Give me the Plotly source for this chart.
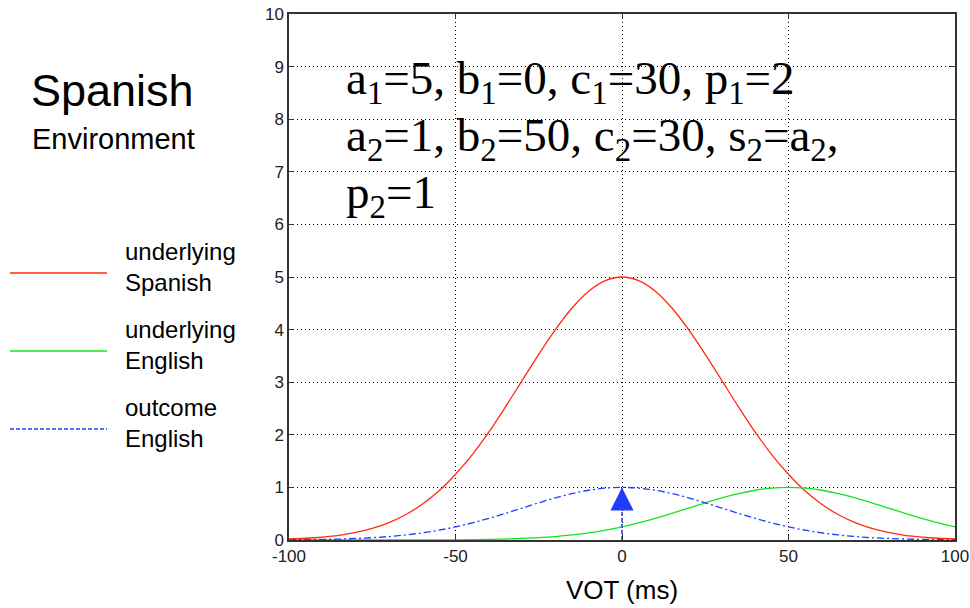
import plotly.graph_objects as go

# ---- data ----
vot = [-100, -95, -90, -85, -80, -75, -70, -65, -60, -55, -50, -45, -40, -35, -30, -25, -20, -15, -10, -5,
       0, 5, 10, 15, 20, 25, 30, 35, 40, 45, 50, 55, 60, 65, 70, 75, 80, 85, 90, 95, 100]

underlying_spanish = [0.019, 0.033, 0.056, 0.090, 0.143, 0.220, 0.330, 0.480, 0.680, 0.930,
                      1.250, 1.620, 2.050, 2.530, 3.030, 3.530, 4.000, 4.410, 4.730, 4.930,
                      5.000,
                      4.930, 4.730, 4.410, 4.000, 3.530, 3.030, 2.530, 2.050, 1.620, 1.250,
                      0.930, 0.680, 0.480, 0.330, 0.220, 0.143, 0.090, 0.056, 0.033, 0.019]

underlying_english = [0.000, 0.000, 0.000, 0.000, 0.000, 0.000, 0.000, 0.001, 0.001, 0.002,
                      0.004, 0.007, 0.011, 0.018, 0.029, 0.044, 0.066, 0.096, 0.135, 0.186,
                      0.249,
                      0.325, 0.411, 0.506, 0.607, 0.707, 0.801, 0.882, 0.946, 0.986, 1.000,
                      0.986, 0.946, 0.882, 0.801, 0.707, 0.607, 0.506, 0.411, 0.325, 0.249]

outcome_english = [0.004, 0.007, 0.011, 0.018, 0.029, 0.044, 0.066, 0.096, 0.135, 0.186,
                   0.249, 0.325, 0.411, 0.506, 0.607, 0.707, 0.801, 0.882, 0.946, 0.986,
                   1.000,
                   0.986, 0.946, 0.882, 0.801, 0.707, 0.607, 0.506, 0.411, 0.325, 0.249,
                   0.186, 0.135, 0.096, 0.066, 0.044, 0.029, 0.018, 0.011, 0.007, 0.004]

arrow_x = [0, 0]
arrow_y = [0, 1.0]

x_ticks = [-100, -50, 0, 50, 100]
x_tick_labels = ["-100", "-50", "0", "50", "100"]
y_ticks = [0, 1, 2, 3, 4, 5, 6, 7, 8, 9, 10]

legend_labels = ["underlying<br>Spanish", "underlying<br>English", "outcome<br>English"]
params_lines = ["a<sub>1</sub>=5, b<sub>1</sub>=0, c<sub>1</sub>=30, p<sub>1</sub>=2",
                "a<sub>2</sub>=1, b<sub>2</sub>=50, c<sub>2</sub>=30, s<sub>2</sub>=a<sub>2</sub>,",
                "p<sub>2</sub>=1"]

RED = "#ff2a10"
GREEN = "#10e620"
BLUE = "#1f3cff"

# plot-area geometry in page pixels (target)
PL, PR, PT, PB = 289, 955, 14, 540
PW, PH = PR - PL, PB - PT


def px_x(p):
    return (p - PL) / PW


def px_y(p):
    return (PB - p) / PH


fig = go.Figure()
fig.add_trace(go.Scatter(x=vot, y=underlying_spanish, mode="lines", line=dict(color=RED, width=1.3, shape="spline"),
                         hoverinfo="skip"))
fig.add_trace(go.Scatter(x=vot, y=underlying_english, mode="lines", line=dict(color=GREEN, width=1.3, shape="spline"),
                         hoverinfo="skip"))
fig.add_trace(go.Scatter(x=vot, y=outcome_english, mode="lines",
                         line=dict(color=BLUE, width=1.3, dash="7px,3px,2px,3px", shape="spline"),
                         hoverinfo="skip"))
# arrow shaft and head
fig.add_trace(go.Scatter(x=arrow_x, y=arrow_y, mode="lines", line=dict(color=BLUE, width=1.5, dash="4px,2px"),
                         hoverinfo="skip"))
fig.add_trace(go.Scatter(x=arrow_x[1:], y=arrow_y[1:], mode="markers",
                         marker=dict(symbol="arrow-up", size=23, color=BLUE, line=dict(width=0)),
                         hoverinfo="skip"))

axis_common = dict(showline=True, linecolor="#333333", linewidth=1.5, mirror="ticks",
                   ticks="inside", ticklen=5, tickcolor="#333333",
                   showgrid=True, gridcolor="#000000", gridwidth=1, griddash="1px,3px",
                   zeroline=False, ticklabeloverflow="allow", automargin=False,
                   tickfont=dict(family="Liberation Sans, Arial", size=17, color="#222222"))

fig.update_xaxes(range=[-100, 100], tickvals=x_ticks, ticktext=x_tick_labels,
                 title=dict(text="VOT (ms)", font=dict(family="Liberation Sans, Arial", size=26, color="#000000"),
                            standoff=16),
                 **axis_common)
fig.update_yaxes(range=[0, 10], tickvals=y_ticks, **axis_common)

annotations = [
    dict(text="Spanish", xref="paper", yref="paper", x=px_x(29), y=px_y(90), xanchor="left", yanchor="middle",
         showarrow=False, font=dict(family="Liberation Sans, Arial", size=45, color="#000000")),
    dict(text="Environment", xref="paper", yref="paper", x=px_x(30), y=px_y(139), xanchor="left",
         yanchor="middle", showarrow=False, font=dict(family="Liberation Sans, Arial", size=29, color="#000000")),
]

params_baselines = [93, 150, 207]
for line, base in zip(params_lines, params_baselines):
    annotations.append(dict(text=line, xref="paper", yref="paper", x=px_x(344), y=px_y(base - 12),
                            xanchor="left", yanchor="middle", align="left", showarrow=False,
                            font=dict(family="Liberation Serif, Times New Roman", size=47, color="#000000")))

legend_line_y = [273, 351, 429]
legend_colors = [RED, GREEN, BLUE]
legend_dash = ["solid", "solid", "4px,2px"]
shapes = []
for lbl, ly, col, ds in zip(legend_labels, legend_line_y, legend_colors, legend_dash):
    shapes.append(dict(type="line", xref="paper", yref="paper", x0=px_x(10), x1=px_x(107),
                       y0=px_y(ly), y1=px_y(ly), line=dict(color=col, width=1.5, dash=ds)))
    annotations.append(dict(text=lbl, xref="paper", yref="paper", x=px_x(123), y=px_y(ly - 6),
                            xanchor="left", yanchor="middle", align="left", showarrow=False,
                            font=dict(family="Liberation Sans, Arial", size=24, color="#000000")))

fig.update_layout(width=970, height=608,
                  margin=dict(l=PL, r=970 - PR, t=PT, b=608 - PB, autoexpand=False),
                  plot_bgcolor="white", paper_bgcolor="white", showlegend=False,
                  annotations=annotations, shapes=shapes)

# remove the page's default 8px body margin so the 970x608 figure fills the window exactly
fig.write_html("out.html", config={"responsive": False, "displayModeBar": False},
               post_script="document.body.style.margin='0px';")
